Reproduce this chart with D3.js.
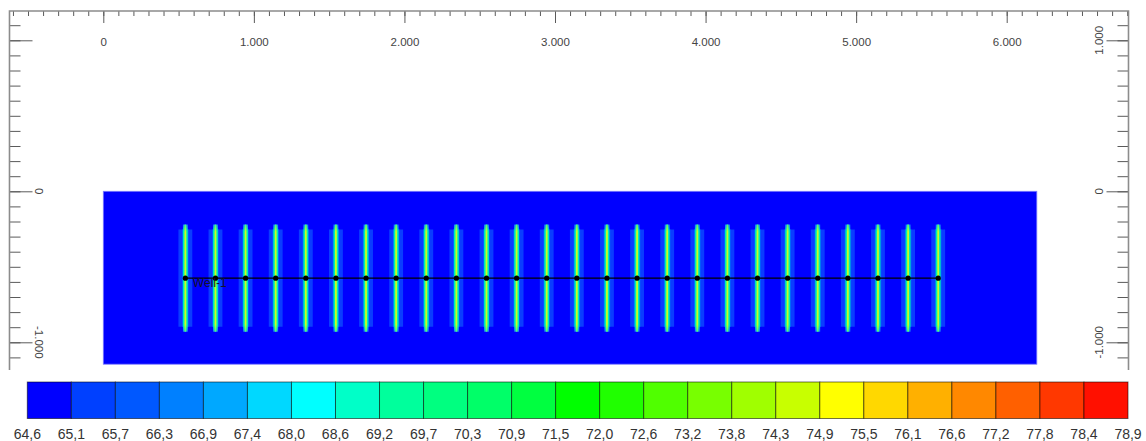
<!DOCTYPE html>
<html>
<head>
<meta charset="utf-8">
<script src="https://cdn.jsdelivr.net/npm/d3@7"></script>
<style>
  html, body { margin: 0; padding: 0; background: #fff; }
  svg { display: block; font-family: "Liberation Sans", Arial, sans-serif; }
</style>
</head>
<body>
<svg id="chart" width="1146" height="441"></svg>
<script>
// ---------------- data ----------------
const xMajorTicks = [0, 1000, 2000, 3000, 4000, 5000, 6000];
const xMinorTicks = d3.range(-600, 6801, 100);
const yMajorTicks = [1000, 0, -1000];
const yMinorTicks = d3.range(-1100, 1101, 100);
const yLeftLabels = [0, -1000];
const yRightLabels = [1000, 0, -1000];
const reservoirX = [0, 6200];
const reservoirY = [0, -1145];
const fractureX = [545, 745, 945, 1145, 1345, 1545, 1745, 1945, 2145, 2345, 2545, 2745, 2945,
                   3145, 3345, 3545, 3745, 3945, 4145, 4345, 4545, 4745, 4945, 5145, 5345, 5545];
const wellY = -575;
const fractureHalfLength = 355;
const wellName = "Well-1";
const colorbarLabels = ["64,6","65,1","65,7","66,3","66,9","67,4","68,0","68,6","69,2","69,7","70,3","70,9","71,5",
                        "72,0","72,6","73,2","73,8","74,3","74,9","75,5","76,1","76,6","77,2","77,8","78,4","78,9"];
const colorbarColors = ["#0000ff","#0040ff","#0058ff","#0080ff","#00a8ff","#00d8ff","#00ffff","#00ffc8",
                        "#00ff9c","#00ff80","#00ff68","#00ff40","#00ff00","#20ff00","#50ff00","#78ff00",
                        "#a0ff00","#c8ff00","#ffff00","#ffd800","#ffb000","#ff8800","#ff6000","#ff3800","#ff1000"];

// ---------------- scales ----------------
const svg = d3.select("#chart");
const x = d3.scaleLinear().domain([0, 6000]).range([103.3, 1006.7]);
const y = d3.scaleLinear().domain([0, -1000]).range([191.3, 342.3]);
const loc = d3.formatLocale({decimal: ",", thousands: ".", grouping: [3], currency: ["", ""], minus: "-"});
const fmt = loc.format(",");

const axisColor = "#8c8c8c";
const tickColor = "#5a5a5a";
const labelColor = "#444";

// ---------------- reservoir ----------------
const defs = svg.append("defs");
const g1 = defs.append("linearGradient").attr("id", "coreGrad").attr("x1", 0).attr("x2", 0).attr("y1", 0).attr("y2", 1);
[[0, "#1a7cff"], [0.06, "#00f0b0"], [0.94, "#00f0b0"], [1, "#1a7cff"]].forEach(s =>
  g1.append("stop").attr("offset", s[0]).attr("stop-color", s[1]));
const g2 = defs.append("linearGradient").attr("id", "centerGrad").attr("x1", 0).attr("x2", 0).attr("y1", 0).attr("y2", 1);
[[0, "#40ff80"], [0.07, "#c8ff20"], [0.93, "#c8ff20"], [1, "#40ff80"]].forEach(s =>
  g2.append("stop").attr("offset", s[0]).attr("stop-color", s[1]));

svg.append("rect")
  .attr("x", x(reservoirX[0])).attr("y", y(reservoirY[0]))
  .attr("width", x(reservoirX[1]) - x(reservoirX[0]))
  .attr("height", y(reservoirY[1]) - y(reservoirY[0]))
  .attr("fill", "#0000ff").attr("stroke", "#7a7aff").attr("stroke-width", 0.8);

const frac = svg.append("g").selectAll("g").data(fractureX).join("g");
frac.append("rect")
  .attr("x", d => x(d - 46)).attr("width", x(92) - x(0))
  .attr("y", y(wellY + 322)).attr("height", y(wellY - 322) - y(wellY + 322))
  .attr("fill", "#0a3cff");
frac.append("rect")
  .attr("x", d => x(d - 22)).attr("width", x(44) - x(0))
  .attr("y", y(wellY + 322)).attr("height", y(wellY - 322) - y(wellY + 322))
  .attr("fill", "#0064ff");
frac.append("rect")
  .attr("x", d => x(d - 16)).attr("width", x(32) - x(0))
  .attr("y", y(wellY + fractureHalfLength)).attr("height", y(wellY - fractureHalfLength) - y(wellY + fractureHalfLength))
  .attr("fill", "url(#coreGrad)");
frac.append("rect")
  .attr("x", d => x(d - 6)).attr("width", x(12) - x(0))
  .attr("y", y(wellY + fractureHalfLength)).attr("height", y(wellY - fractureHalfLength) - y(wellY + fractureHalfLength))
  .attr("fill", "url(#centerGrad)");

// well
svg.append("line")
  .attr("x1", x(d3.min(fractureX))).attr("x2", x(d3.max(fractureX)))
  .attr("y1", y(wellY)).attr("y2", y(wellY))
  .attr("stroke", "#000").attr("stroke-width", 1.4);
svg.append("g").selectAll("circle").data(fractureX).join("circle")
  .attr("cx", d => x(d)).attr("cy", y(wellY)).attr("r", 2.6).attr("fill", "#000");
svg.append("text")
  .attr("x", x(fractureX[0]) + 7.5).attr("y", y(wellY) + 8.5)
  .attr("font-size", 12).attr("fill", "#141428").text(wellName);

// ---------------- axes ----------------
const topY = 11, leftX = 9.5, rightX = 1128.5, bottomY = 370;

function styleAxis(g) {
  g.select(".domain").remove();
  g.selectAll(".tick line").attr("stroke", tickColor).attr("stroke-width", 1);
}

// top axis
svg.append("g").attr("transform", `translate(0,${topY})`)
  .call(d3.axisBottom(x).tickValues(xMinorTicks).tickSize(5).tickFormat(""))
  .call(styleAxis);
const topMajor = svg.append("g").attr("transform", `translate(0,${topY})`)
  .call(d3.axisBottom(x).tickValues(xMajorTicks).tickSize(12).tickPadding(26).tickFormat(fmt))
  .call(styleAxis);
topMajor.selectAll("text").attr("font-size", 11.5).attr("fill", labelColor).attr("dy", "0").attr("y", 34.5)
  .attr("font-family", "Liberation Sans, Arial, sans-serif");

// left axis
svg.append("g").attr("transform", `translate(${leftX},0)`)
  .call(d3.axisRight(y).tickValues(yMinorTicks).tickSize(11).tickFormat(""))
  .call(styleAxis);
svg.append("g").attr("transform", `translate(${leftX},0)`)
  .call(d3.axisRight(y).tickValues(yMajorTicks).tickSize(23).tickFormat(""))
  .call(styleAxis);
svg.append("g").selectAll("text").data(yLeftLabels).join("text")
  .attr("transform", d => `translate(${leftX + 30},${y(d)}) rotate(90)`)
  .attr("text-anchor", "middle").attr("dy", "0.35em")
  .attr("font-size", 11.5).attr("fill", labelColor).text(fmt);

// right axis
svg.append("g").attr("transform", `translate(${rightX},0)`)
  .call(d3.axisLeft(y).tickValues(yMinorTicks).tickSize(11).tickFormat(""))
  .call(styleAxis);
svg.append("g").attr("transform", `translate(${rightX},0)`)
  .call(d3.axisLeft(y).tickValues(yMajorTicks).tickSize(22).tickFormat(""))
  .call(styleAxis);
svg.append("g").selectAll("text").data(yRightLabels).join("text")
  .attr("transform", d => `translate(${rightX - 30},${y(d)}) rotate(-90)`)
  .attr("text-anchor", "middle").attr("dy", "0.35em")
  .attr("font-size", 11.5).attr("fill", labelColor).text(fmt);

// axis frame lines
svg.append("path")
  .attr("d", `M${leftX},${bottomY}V${topY}H${rightX}V${bottomY}`)
  .attr("fill", "none").attr("stroke", axisColor).attr("stroke-width", 1.6);

// ---------------- colorbar ----------------
const cb = d3.scaleLinear().domain([0, colorbarColors.length]).range([27.3, 1128]);
const cbTop = 382, cbBottom = 418.5;
svg.append("g").selectAll("rect").data(colorbarColors).join("rect")
  .attr("x", (d, i) => cb(i)).attr("width", (d, i) => cb(i + 1) - cb(i))
  .attr("y", cbTop).attr("height", cbBottom - cbTop)
  .attr("fill", d => d).attr("stroke", "rgba(0,0,0,0.55)").attr("stroke-width", 1);
svg.append("g").selectAll("text").data(colorbarLabels).join("text")
  .attr("x", (d, i) => cb(i)).attr("y", 439)
  .attr("text-anchor", "middle").attr("font-size", 14).attr("fill", "#333").text(d => d);
</script>
</body>
</html>
